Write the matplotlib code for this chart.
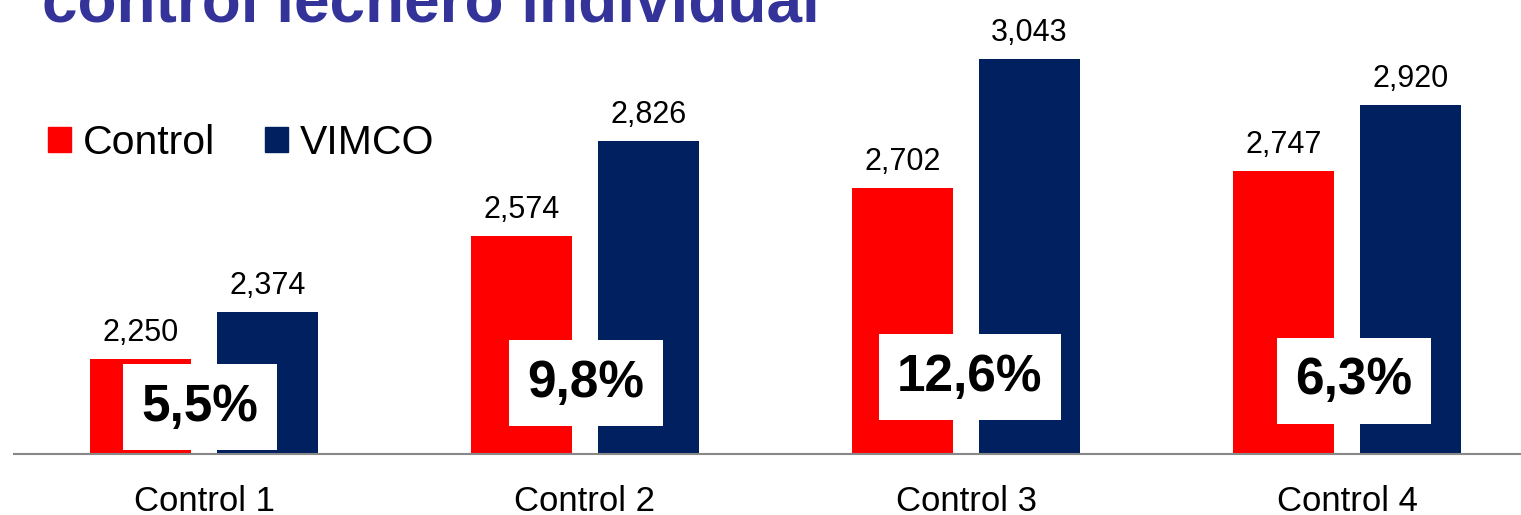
import numpy as np
import matplotlib.pyplot as plt
from matplotlib.patches import Patch

plt.rcParams['font.family'] = ['Liberation Sans', 'DejaVu Sans']

# data
categories = ['Control 1', 'Control 2', 'Control 3', 'Control 4']
control = [2250, 2574, 2702, 2747]
vimco = [2374, 2826, 3043, 2920]
series_names = ['Control', 'VIMCO']
title = 'control lechero individual'

# layout of the percentage boxes (data coords)
box_dx = [-0.01, 0.003, 0.01, 0.018]
box_y = [2124, 2187, 2203, 2193]

red = '#FF0000'
navy = '#002060'

W, H = 1521, 515
fig = plt.figure(figsize=(W / 100, H / 100), dpi=100)
ax = fig.add_axes([13.5 / W, 1 - 454 / H, 1524 / W, 454 / H])

x = np.arange(len(categories))
w = 0.265
off = 0.1667
b1 = ax.bar(x - off, control, w, color=red)
b2 = ax.bar(x + off, vimco, w, color=navy)

ax.bar_label(b1, fmt='{:,.0f}', padding=8, fontsize=22)
ax.bar_label(b2, fmt='{:,.0f}', padding=8, fontsize=22)

for i in range(len(categories)):
    pct = (vimco[i] / control[i] - 1) * 100
    txt = f'{pct:.1f}'.replace('.', ',') + '%'
    ax.text(x[i] + box_dx[i], box_y[i], txt, ha='center', va='center',
            fontsize=37, fontweight='bold', color='black',
            bbox=dict(boxstyle='square,pad=0.36', facecolor='white', edgecolor='none'))

ax.set_xlim(-0.5, 3.5)
ax.set_ylim(2000, 3198)
ax.set_yticks([])
ax.set_xticks(x)
ax.set_xticklabels(categories, fontsize=25)
ax.tick_params(axis='x', length=0, pad=22)
for s in ['top', 'left', 'right']:
    ax.spines[s].set_visible(False)
ax.spines['bottom'].set_color('#888888')
ax.spines['bottom'].set_linewidth(1.5)

handles = [Patch(color=red), Patch(color=navy)]
fig.legend(handles, series_names, loc='center left',
           bbox_to_anchor=(48 / W, 1 - 143 / H), fontsize=29.5, ncol=2,
           frameon=False, borderpad=0, borderaxespad=0,
           handlelength=0.55, handleheight=0.55, handletextpad=0.3,
           columnspacing=1.22)

fig.text(42 / W, 1 - 22 / H, title, ha='left', va='baseline',
         fontsize=46, fontweight='bold', color='#333399')

fig.savefig('out.png', dpi=100)
